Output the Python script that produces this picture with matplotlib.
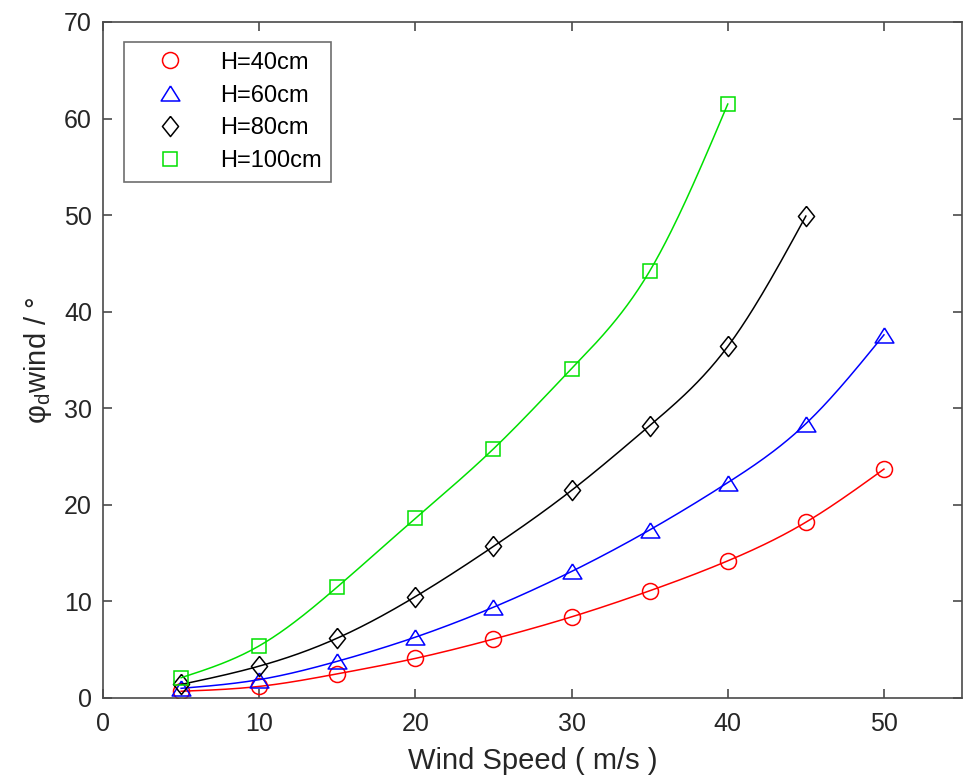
import numpy as np
import matplotlib
matplotlib.use("Agg")
import matplotlib.pyplot as plt

plt.rcParams['font.family'] = ['Liberation Sans', 'DejaVu Sans']

# wind speed (m/s)
speed = [5, 10, 15, 20, 25, 30, 35, 40, 45, 50]

h40 = [0.7, 1.2, 2.5, 4.1, 6.1, 8.4, 11.1, 14.2, 18.2, 23.7]
h60 = [1.0, 1.9, 3.8, 6.3, 9.4, 13.1, 17.4, 22.3, 28.4, 37.6]
h80 = [1.4, 3.3, 6.2, 10.5, 15.7, 21.5, 28.2, 36.4, 49.9]
h100 = [2.1, 5.4, 11.5, 18.6, 25.8, 34.1, 44.2, 61.5]

diamond = [(0, 1), (0.8, 0), (0, -1), (-0.8, 0), (0, 1)]
triangle = [(0, 0.8), (1, -0.8), (-1, -0.8), (0, 0.8)]

series = [
    ("H=40cm", h40, "o", 11.5, "#ff0000"),
    ("H=60cm", h60, triangle, 13.5, "#0000ff"),
    ("H=80cm", h80, diamond, 14.5, "#000000"),
    ("H=100cm", h100, "s", 9.5, "#00e000"),
]


def natural_spline(x, y, xf):
    n = len(x)
    h = np.diff(x)
    A = np.zeros((n, n))
    b = np.zeros(n)
    A[0, 0] = 1
    A[-1, -1] = 1
    for i in range(1, n - 1):
        A[i, i - 1] = h[i - 1]
        A[i, i] = 2 * (h[i - 1] + h[i])
        A[i, i + 1] = h[i]
        b[i] = 6 * ((y[i + 1] - y[i]) / h[i] - (y[i] - y[i - 1]) / h[i - 1])
    M = np.linalg.solve(A, b)
    out = np.empty_like(xf)
    for k, xv in enumerate(xf):
        i = min(np.searchsorted(x, xv, side="right") - 1, n - 2)
        i = max(i, 0)
        t1 = x[i + 1] - xv
        t0 = xv - x[i]
        out[k] = (M[i] * t1 ** 3 / (6 * h[i]) + M[i + 1] * t0 ** 3 / (6 * h[i])
                  + (y[i] / h[i] - M[i] * h[i] / 6) * t1
                  + (y[i + 1] / h[i] - M[i + 1] * h[i] / 6) * t0)
    return out


fig = plt.figure(figsize=(9.63, 7.84), dpi=100)
ax = fig.add_axes([0.107, 0.1097, 0.892, 0.8623])

for label, vals, mk, ms, col in series:
    x = np.array(speed[:len(vals)], dtype=float)
    y = np.array(vals)
    xf = np.linspace(x[0], x[-1], 300)
    ax.plot(xf, natural_spline(x, y, xf), color=col, lw=1.1)
    ax.plot(x, y, linestyle="none", marker=mk, mfc="none", mec=col,
            mew=1.1, ms=ms, label=label)

ax.set_xlim(0, 55)
ax.set_ylim(0, 70)
ax.set_xticks(range(0, 51, 10))
ax.set_yticks(range(0, 71, 10))

axcol = "#4a4a4a"
for s in ax.spines.values():
    s.set_color(axcol)
    s.set_linewidth(1.2)
ax.tick_params(direction="in", top=True, right=True, length=6.5, width=1.2,
               color=axcol, labelsize=18, labelcolor="#262626")
ax.tick_params(axis="x", pad=10)
ax.tick_params(axis="y", pad=8)

ax.set_xlabel("Wind Speed ( m/s )", fontsize=21, color="#262626", labelpad=8)
ax.set_ylabel("φ$_\\mathregular{d}$wind / °", fontsize=21, color="#262626", labelpad=7)

leg = ax.legend(loc="upper left", bbox_to_anchor=(0.0245, 0.970), borderaxespad=0,
                fontsize=17, frameon=True, fancybox=False, edgecolor=axcol,
                handletextpad=0.55, borderpad=0.4, labelspacing=0.46, handlelength=3.1)
leg.get_frame().set_linewidth(1.2)

fig.savefig("out.png", dpi=100)
